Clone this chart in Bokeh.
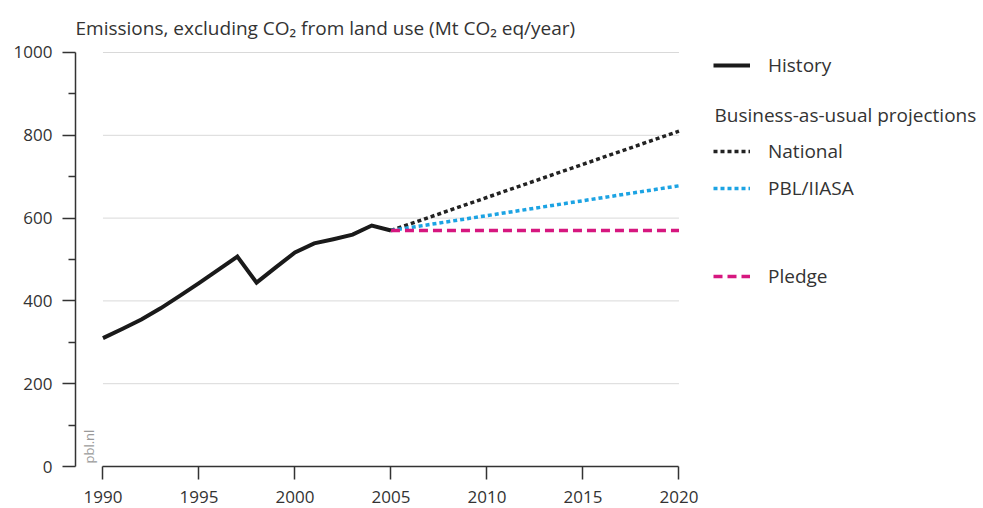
import math
from bokeh.plotting import figure
from bokeh.models import Range1d, FixedTicker, Label, Legend, LegendItem
from bokeh.embed import file_html
from bokeh.resources import INLINE

# ---- data ----
hist_years = [1990, 1991, 1992, 1993, 1994, 1995, 1996, 1997, 1998, 1999,
              2000, 2001, 2002, 2003, 2004, 2005]
history = [310, 332, 355, 382, 412, 443, 475, 507, 444, 481,
           517, 539, 549, 560, 582, 570]
proj_years = [2005, 2020]
national = [570, 810]
pbl_iiasa = [570, 678]
pledge = [570, 570]

x_ticks = [1990, 1995, 2000, 2005, 2010, 2015, 2020]
y_ticks = [0, 200, 400, 600, 800, 1000]
y_minor = [100, 300, 500, 700, 900]
grid_values = [200, 400, 600, 800, 1000]

title_text = "Emissions, excluding CO\u2082 from land use (Mt CO\u2082 eq/year)"
legend_heading = "Business-as-usual projections"

FONT = "Open Sans"
TXT = "#333333"

p = figure(width=983, height=508, output_backend="svg", toolbar_location=None,
           x_range=Range1d(1988.57, 2035.86), y_range=Range1d(0, 1125.6),
           min_border_left=75, min_border_right=0, min_border_top=0, min_border_bottom=42)
p.outline_line_color = None
p.xgrid.visible = False
p.ygrid.visible = False
p.background_fill_color = "white"

# axes
p.yaxis.ticker = FixedTicker(ticks=y_ticks, minor_ticks=y_minor)
p.yaxis.bounds = (y_ticks[0], y_ticks[-1])
p.xaxis.ticker = FixedTicker(ticks=x_ticks, minor_ticks=[])
p.xaxis.bounds = (x_ticks[0], x_ticks[-1])
for ax in (p.xaxis, p.yaxis):
    ax.axis_line_color = TXT
    ax.axis_line_width = 1.5
    ax.major_tick_line_color = TXT
    ax.major_tick_line_width = 1.5
    ax.minor_tick_line_color = TXT
    ax.minor_tick_line_width = 1.5
    ax.major_tick_in = 0
    ax.minor_tick_in = 0
    ax.major_label_text_font = FONT
    ax.major_label_text_font_size = "17px"
    ax.major_label_text_color = TXT
p.yaxis.major_tick_out = 13
p.yaxis.minor_tick_out = 7
p.yaxis.major_label_standoff = 10
p.xaxis.major_tick_out = 13
p.xaxis.minor_tick_out = 0
p.xaxis.major_label_standoff = 11

# gridlines (only across the data span)
p.segment(x0=x_ticks[0], x1=x_ticks[-1], y0=grid_values, y1=grid_values,
          line_color="#d9d9d9", line_width=1)

r_nat = p.line(proj_years, national, line_color="#222222", line_width=3.5, line_dash="4 3")
r_pbl = p.line(proj_years, pbl_iiasa, line_color="#1ca3e3", line_width=3.5, line_dash="4 3")
r_pledge = p.line(proj_years, pledge, line_color="#d6177f", line_width=3.5, line_dash="9 5")
r_hist = p.line(hist_years, history, line_color="#1a1a1a", line_width=4, line_join="miter")

def make_legend(items, vy):
    lg = Legend(items=items, location=(638, vy), orientation="vertical",
                glyph_width=37, glyph_height=28, label_height=28, label_standoff=18,
                spacing=9, padding=0, margin=0, border_line_alpha=0,
                background_fill_alpha=0, label_text_font=FONT,
                label_text_font_size="19px", label_text_color=TXT)
    p.add_layout(lg)
    return lg

make_legend([LegendItem(label="History", renderers=[r_hist])], 387)
make_legend([LegendItem(label="National", renderers=[r_nat]),
             LegendItem(label="PBL/IIASA", renderers=[r_pbl])], 264)
make_legend([LegendItem(label="Pledge", renderers=[r_pledge])], 176)

p.add_layout(Label(x=639, y=352, x_units="screen", y_units="screen", text=legend_heading,
                   text_font=FONT, text_font_size="19px", text_color=TXT,
                   text_baseline="middle", text_align="left"))
p.add_layout(Label(x=0, y=439, x_units="screen", y_units="screen", text=title_text,
                   text_font=FONT, text_font_size="19px", text_color=TXT,
                   text_baseline="middle", text_align="left"))
p.add_layout(Label(x=13, y=3, x_units="screen", y_units="screen", text="pbl.nl",
                   angle=math.pi / 2, text_font=FONT, text_font_size="13px",
                   text_color="#9a9a9a", text_baseline="middle", text_align="left"))

open("out.html", "w").write(file_html(p, INLINE))
